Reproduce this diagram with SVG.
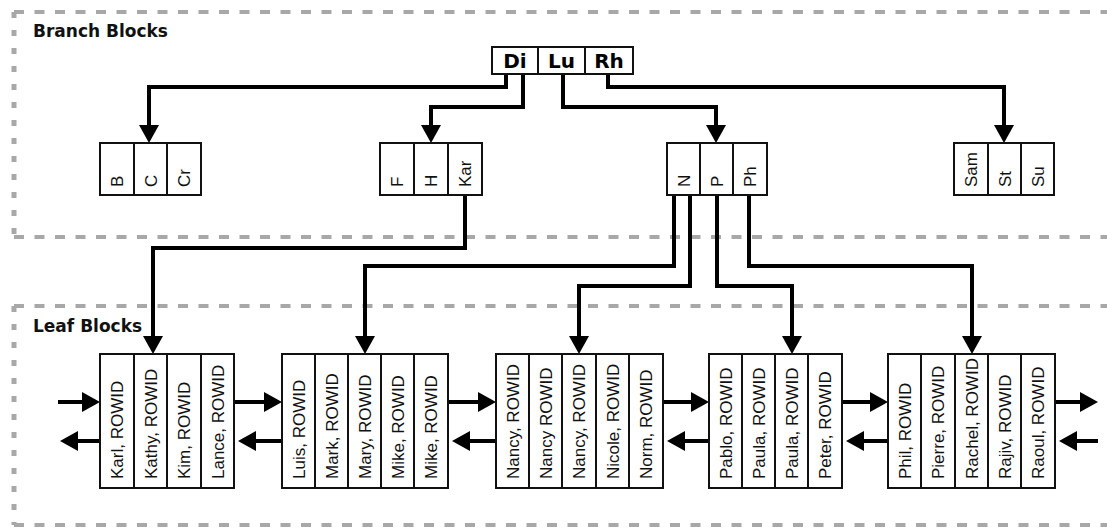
<svg xmlns="http://www.w3.org/2000/svg" width="1107" height="529" viewBox="0 0 1107 529">
<style>
.bg{fill:#fff}
.hd{stroke:#a8a8a8;stroke-width:4;stroke-dasharray:10 10.5;fill:none}
.vd{stroke:#a8a8a8;stroke-width:5;stroke-dasharray:6 12;fill:none}
.title{font-family:"DejaVu Sans",sans-serif;font-weight:bold;font-size:17px;fill:#111}
.box{fill:#fff;stroke:#111;stroke-width:2}
.div{stroke:#111;stroke-width:2}
.root{font-family:"DejaVu Sans",sans-serif;font-weight:bold;font-size:20px;fill:#000;text-anchor:middle}
.lbl{font-family:"Liberation Sans",Arial,sans-serif;font-size:17px;fill:#111}
.conn{fill:none;stroke:#000;stroke-width:4;stroke-linejoin:miter}
</style>
<defs>
<marker id="ah" viewBox="0 0 18 20" refX="8" refY="10" markerWidth="18" markerHeight="20" markerUnits="userSpaceOnUse" orient="auto">
<path d="M0,0 L18,10 L0,20 z" fill="#000"/>
</marker>
</defs>
<rect class="bg" x="0" y="0" width="1107" height="529"/>
<g id="regions">
<line class="hd" x1="14" y1="12" x2="1107" y2="12"/>
<line class="hd" x1="14" y1="237" x2="1107" y2="237"/>
<line class="vd" x1="14" y1="12" x2="14" y2="237"/>
<line class="hd" x1="14" y1="306" x2="1107" y2="306"/>
<line class="hd" x1="14" y1="525" x2="1107" y2="525"/>
<line class="vd" x1="14" y1="306" x2="14" y2="525"/>
<text class="title" x="33" y="37">Branch Blocks</text>
<text class="title" x="33" y="332">Leaf Blocks</text>
</g>
<g id="connectors">
<path class="conn" marker-end="url(#ah)" d="M506,74 V87 H149 V133"/>
<path class="conn" marker-end="url(#ah)" d="M523,74 V107 H431 V133"/>
<path class="conn" marker-end="url(#ah)" d="M563,74 V107 H716 V133"/>
<path class="conn" marker-end="url(#ah)" d="M608,74 V87 H1004 V133"/>
<path class="conn" marker-end="url(#ah)" d="M465,195 V248 H153 V344"/>
<path class="conn" marker-end="url(#ah)" d="M674,195 V266 H365 V344"/>
<path class="conn" marker-end="url(#ah)" d="M690,195 V286 H579 V344"/>
<path class="conn" marker-end="url(#ah)" d="M717,195 V286 H792 V344"/>
<path class="conn" marker-end="url(#ah)" d="M749,195 V266 H972 V344"/>
<path class="conn" marker-end="url(#ah)" d="M58,402 H90"/>
<path class="conn" marker-end="url(#ah)" d="M100,441 H70"/>
<path class="conn" marker-end="url(#ah)" d="M234,402 H272"/>
<path class="conn" marker-end="url(#ah)" d="M282,441 H248"/>
<path class="conn" marker-end="url(#ah)" d="M448,402 H486"/>
<path class="conn" marker-end="url(#ah)" d="M496,441 H462"/>
<path class="conn" marker-end="url(#ah)" d="M663,402 H699"/>
<path class="conn" marker-end="url(#ah)" d="M709,441 H677"/>
<path class="conn" marker-end="url(#ah)" d="M842,402 H878"/>
<path class="conn" marker-end="url(#ah)" d="M888,441 H856"/>
<path class="conn" marker-end="url(#ah)" d="M1055,402 H1088"/>
<path class="conn" marker-end="url(#ah)" d="M1098,441 H1069"/>
</g>
<g id="root">
<rect class="box" x="492" y="47" width="141" height="27"/>
<line class="div" x1="538" y1="47" x2="538" y2="74"/>
<line class="div" x1="585" y1="47" x2="585" y2="74"/>
<text class="root" x="515" y="68">Di</text>
<text class="root" x="561.5" y="68">Lu</text>
<text class="root" x="609" y="68">Rh</text>
</g>
<g id="branch-b">
<rect class="box" x="100" y="143" width="101" height="52"/>
<line class="div" x1="134" y1="143" x2="134" y2="195"/>
<line class="div" x1="167" y1="143" x2="167" y2="195"/>
<text class="lbl" transform="translate(123,187) rotate(-90)">B</text>
<text class="lbl" transform="translate(156.5,187) rotate(-90)">C</text>
<text class="lbl" transform="translate(190,187) rotate(-90)">Cr</text>
</g>
<g id="branch-f">
<rect class="box" x="380" y="143" width="102" height="52"/>
<line class="div" x1="414" y1="143" x2="414" y2="195"/>
<line class="div" x1="448" y1="143" x2="448" y2="195"/>
<text class="lbl" transform="translate(403,187) rotate(-90)">F</text>
<text class="lbl" transform="translate(437,187) rotate(-90)">H</text>
<text class="lbl" transform="translate(471,187) rotate(-90)">Kar</text>
</g>
<g id="branch-n">
<rect class="box" x="667" y="143" width="100" height="52"/>
<line class="div" x1="700" y1="143" x2="700" y2="195"/>
<line class="div" x1="733" y1="143" x2="733" y2="195"/>
<text class="lbl" transform="translate(689.5,187) rotate(-90)">N</text>
<text class="lbl" transform="translate(722.5,187) rotate(-90)">P</text>
<text class="lbl" transform="translate(756,187) rotate(-90)">Ph</text>
</g>
<g id="branch-s">
<rect class="box" x="954" y="143" width="100" height="52"/>
<line class="div" x1="988" y1="143" x2="988" y2="195"/>
<line class="div" x1="1021" y1="143" x2="1021" y2="195"/>
<text class="lbl" transform="translate(977,187) rotate(-90)">Sam</text>
<text class="lbl" transform="translate(1010.5,187) rotate(-90)">St</text>
<text class="lbl" transform="translate(1043.5,187) rotate(-90)">Su</text>
</g>
<g id="leaf-1">
<rect class="box" x="100" y="354" width="134" height="134"/>
<line class="div" x1="134" y1="354" x2="134" y2="488"/>
<line class="div" x1="167" y1="354" x2="167" y2="488"/>
<line class="div" x1="201" y1="354" x2="201" y2="488"/>
<text class="lbl" transform="translate(123,479) rotate(-90)">Karl, ROWID</text>
<text class="lbl" transform="translate(156.5,479) rotate(-90)">Kathy, ROWID</text>
<text class="lbl" transform="translate(190,479) rotate(-90)">Kim, ROWID</text>
<text class="lbl" transform="translate(223.5,479) rotate(-90)">Lance, ROWID</text>
</g>
<g id="leaf-2">
<rect class="box" x="282" y="354" width="166" height="134"/>
<line class="div" x1="315" y1="354" x2="315" y2="488"/>
<line class="div" x1="348" y1="354" x2="348" y2="488"/>
<line class="div" x1="381" y1="354" x2="381" y2="488"/>
<line class="div" x1="414" y1="354" x2="414" y2="488"/>
<text class="lbl" transform="translate(304.5,479) rotate(-90)">Luis, ROWID</text>
<text class="lbl" transform="translate(337.5,479) rotate(-90)">Mark, ROWID</text>
<text class="lbl" transform="translate(370.5,479) rotate(-90)">Mary, ROWID</text>
<text class="lbl" transform="translate(403.5,479) rotate(-90)">Mike, ROWID</text>
<text class="lbl" transform="translate(437,479) rotate(-90)">Mike, ROWID</text>
</g>
<g id="leaf-3">
<rect class="box" x="496" y="354" width="167" height="134"/>
<line class="div" x1="529" y1="354" x2="529" y2="488"/>
<line class="div" x1="562" y1="354" x2="562" y2="488"/>
<line class="div" x1="596" y1="354" x2="596" y2="488"/>
<line class="div" x1="629" y1="354" x2="629" y2="488"/>
<text class="lbl" transform="translate(518.5,479) rotate(-90)">Nancy, ROWID</text>
<text class="lbl" transform="translate(551.5,479) rotate(-90)">Nancy ROWID</text>
<text class="lbl" transform="translate(585,479) rotate(-90)">Nancy, ROWID</text>
<text class="lbl" transform="translate(618.5,479) rotate(-90)">Nicole, ROWID</text>
<text class="lbl" transform="translate(652,479) rotate(-90)">Norm, ROWID</text>
</g>
<g id="leaf-4">
<rect class="box" x="709" y="354" width="133" height="134"/>
<line class="div" x1="742" y1="354" x2="742" y2="488"/>
<line class="div" x1="775" y1="354" x2="775" y2="488"/>
<line class="div" x1="808" y1="354" x2="808" y2="488"/>
<text class="lbl" transform="translate(731.5,479) rotate(-90)">Pablo, ROWID</text>
<text class="lbl" transform="translate(764.5,479) rotate(-90)">Paula, ROWID</text>
<text class="lbl" transform="translate(797.5,479) rotate(-90)">Paula, ROWID</text>
<text class="lbl" transform="translate(831,479) rotate(-90)">Peter, ROWID</text>
</g>
<g id="leaf-5">
<rect class="box" x="888" y="354" width="167" height="134"/>
<line class="div" x1="921" y1="354" x2="921" y2="488"/>
<line class="div" x1="955" y1="354" x2="955" y2="488"/>
<line class="div" x1="988" y1="354" x2="988" y2="488"/>
<line class="div" x1="1021" y1="354" x2="1021" y2="488"/>
<text class="lbl" transform="translate(910.5,479) rotate(-90)">Phil, ROWID</text>
<text class="lbl" transform="translate(944,479) rotate(-90)">Pierre, ROWID</text>
<text class="lbl" transform="translate(977.5,479) rotate(-90)">Rachel, ROWID</text>
<text class="lbl" transform="translate(1010.5,479) rotate(-90)">Rajiv, ROWID</text>
<text class="lbl" transform="translate(1044,479) rotate(-90)">Raoul, ROWID</text>
</g>
</svg>
